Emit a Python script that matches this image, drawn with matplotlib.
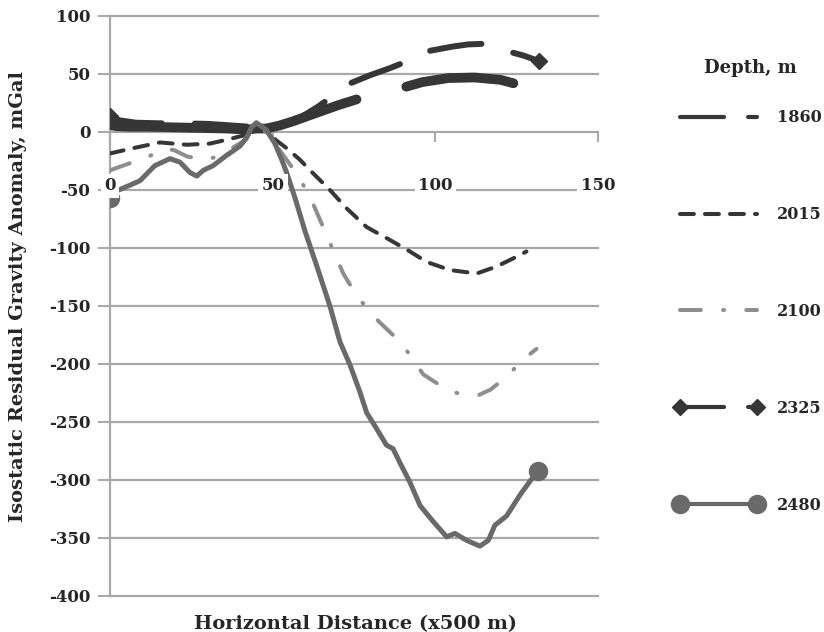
import matplotlib
matplotlib.use("Agg")
import matplotlib.pyplot as plt
from matplotlib.lines import Line2D

plt.rcParams['font.family'] = ['DejaVu Serif']
plt.rcParams['font.weight'] = 'bold'
plt.rcParams['lines.scale_dashes'] = False

# ---------------- data ----------------
x_1860 = [0, 2, 6, 12, 20, 28, 36, 42, 45, 48, 52, 56, 60, 65, 70, 76.8, 84, 91, 96, 104, 112, 120, 124]
y_1860 = [6, 5, 4.5, 4.5, 4, 3.5, 3, 2, 3, 3, 5.5, 9, 13, 18, 23, 29, 34, 39, 43, 46.5, 47, 45, 42]

x_2015 = [0, 7, 15.4, 23.6, 30.7, 36.9, 41, 45, 48, 51, 54.3, 58.4, 61.5, 67.6, 72.8, 78.9, 86,
          92.2, 97.3, 104.5, 112.7, 118.8, 125, 128]
y_2015 = [-18.5, -14, -9, -11, -10, -6, -3, 5, 2, -7, -14, -24, -33, -50, -66, -82, -93,
          -103, -112, -119, -122, -116, -107.5, -103]

x_2100 = [0, 3, 6, 10, 14, 17.4, 20, 23.6, 27, 29.8, 34, 38, 41, 45, 48, 52, 57.4, 61.5, 66.6,
          71.7, 76, 82.5, 89.6, 96.3, 104, 108, 113.2, 117, 121.9, 127, 131.1]
y_2100 = [-33, -30, -27, -24, -18, -14, -16, -21, -23, -24, -20, -13, -8, 6, 0, -15, -36, -56, -89,
          -122, -142, -163, -182, -209, -223, -226, -227, -222, -211, -196, -187]

x_2325 = [0, 3, 8, 15, 22, 30, 38, 43, 46, 48, 52, 56, 60, 64, 68, 73, 80, 86, 90, 94, 97.4,
          105, 110, 114.7, 119, 123, 127, 132]
y_2325 = [14, 10, 8, 7.5, 7.5, 7, 5.5, 4.5, 7, 6, 5, 9, 15, 22, 30, 41, 49, 55, 59.5, 65, 69.5,
          73.5, 75.5, 76, 73, 69, 66, 61]

x_2480 = [0, 1, 6, 9.2, 13.8, 18.4, 21.5, 24.6, 26.7, 28.7, 31.7, 35.9, 38, 40, 42, 43.5, 45, 48,
          50.7, 52.8, 54.3, 57, 60, 63.5, 67.6, 70.7, 73.8, 76.8, 78.9, 82, 85, 87, 89.1, 92.2,
          95.3, 99.4, 103.5, 106, 109.6, 113.7, 116.3, 118.3, 121.9, 126, 129.1, 131.7]
y_2480 = [-57, -52, -46, -42, -29, -23, -26, -35, -38, -33, -29, -20, -16, -12, -5, 4, 8, 2,
          -10, -24, -35, -58, -86, -115, -150, -181, -201, -224, -242, -256, -270, -273, -285, -302,
          -322, -336, -349, -346, -352, -357, -352, -339, -331, -313, -301, -292]

series_labels = ['1860', '2015', '2100', '2325', '2480']
x_ticks = [0, 50, 100, 150]
y_ticks = [-400, -350, -300, -250, -200, -150, -100, -50, 0, 50, 100]
y_tick_labels = ['-400', '-350', '-300', '-250', '-200', '-150', '-100', '-50', '0', '50', '100']

# ---------------- styles ----------------
DARK = '#363636'
GRAY1 = '#6a6a6a'
GRAY2 = '#8e8e8e'
GRID = '#a9a9a9'
TXT = '#262626'
FS_TICK = 12
FS_LAB = 14

fig = plt.figure(figsize=(8.24, 6.32), dpi=100)
ax = fig.add_axes([110/824, 36/632, 488/824, 580/632])
ax.set_xlim(0, 150)
ax.set_ylim(-400, 100)
ax.set_axisbelow(True)

ax.plot(x_1860, y_1860, color=DARK, lw=7, linestyle=(0, (181, 37)),
        dash_capstyle='round', solid_capstyle='round', zorder=2)
ax.plot(x_2015, y_2015, color=DARK, lw=2.9, linestyle=(0, (10, 8)),
        dash_capstyle='round', zorder=2)
ax.plot(x_2100, y_2100, color=GRAY2, lw=2.9, linestyle=(0, (15, 16, 0.7, 16)),
        dash_capstyle='round', zorder=2)
ax.plot(x_2325, y_2325, color=DARK, lw=4.3, linestyle=(60.5, (37.4, 23.8)),
        dash_capstyle='round', marker='D', markersize=8, markevery=[0, len(x_2325) - 1], zorder=2)
ax.plot(x_2480, y_2480, color=GRAY1, lw=3.6, marker='o', markersize=13,
        markevery=[0, len(x_2480) - 1], zorder=2)

# axes styling
ax.set_yticks(y_ticks)
ax.set_yticklabels(y_tick_labels)
ax.tick_params(axis='y', direction='out', length=8.6, width=1.5, color=GRID, pad=5.5,
               labelsize=FS_TICK, labelcolor=TXT)
ax.yaxis.grid(True, color=GRID, lw=1.6)
for gl in ax.get_ygridlines():
    gl.set_clip_on(False)

ax.set_xticks(x_ticks)
ax.set_xticklabels([])
ax.spines['bottom'].set_position(('data', 0))
ax.spines['bottom'].set_visible(False)
ax.tick_params(axis='x', direction='out', length=7.5, width=1.5, color=GRID)
for v in x_ticks:
    ax.text(v, -46.5, str(v), ha='center', va='center', fontsize=FS_TICK, fontweight='bold',
            color=TXT, zorder=5,
            bbox=dict(facecolor='white', edgecolor='none', pad=2.5))

ax.spines['top'].set_visible(False)
ax.spines['right'].set_visible(False)
ax.spines['left'].set_color(GRID)
ax.spines['left'].set_linewidth(1.6)
ax.spines['left'].set_zorder(1)

fig.text(18/824, 1 - 296/632, 'Isostatic Residual Gravity Anomaly, mGal', rotation=90,
         ha='center', va='center', fontsize=FS_LAB, fontweight='bold', color=TXT)
fig.text(356/824, 1 - 624/632, 'Horizontal Distance (x500 m)', ha='center', va='center',
         fontsize=FS_LAB, fontweight='bold', color=TXT)

# legend
handles = [
    Line2D([], [], color=DARK, lw=3, linestyle=(0, (31.7, 17.3)), dash_capstyle='round'),
    Line2D([], [], color=DARK, lw=2.9, linestyle=(0, (10, 8)), dash_capstyle='round'),
    Line2D([], [], color=GRAY2, lw=2.9, linestyle=(0, (15, 16, 0.7, 16)), dash_capstyle='round'),
    Line2D([], [], color=DARK, lw=3, linestyle=(0, (31.7, 17.3)), dash_capstyle='round',
           marker='D', markersize=8),
    Line2D([], [], color=GRAY1, lw=3, marker='o', markersize=13),
]
fig.legend(handles, series_labels, loc='center left', bbox_to_anchor=(675/824, 1 - 311.5/632),
           frameon=False, numpoints=2, handlelength=5.44, handletextpad=0.94, labelspacing=5.0,
           borderpad=0, borderaxespad=0, labelcolor=TXT,
           prop={'weight': 'bold', 'size': 11.5, 'family': 'DejaVu Serif'})
fig.text(750/824, 1 - 68/632, 'Depth, m', ha='center', va='center', fontsize=13,
         fontweight='bold', color=TXT)

fig.savefig('out.png', dpi=100, facecolor='white')
